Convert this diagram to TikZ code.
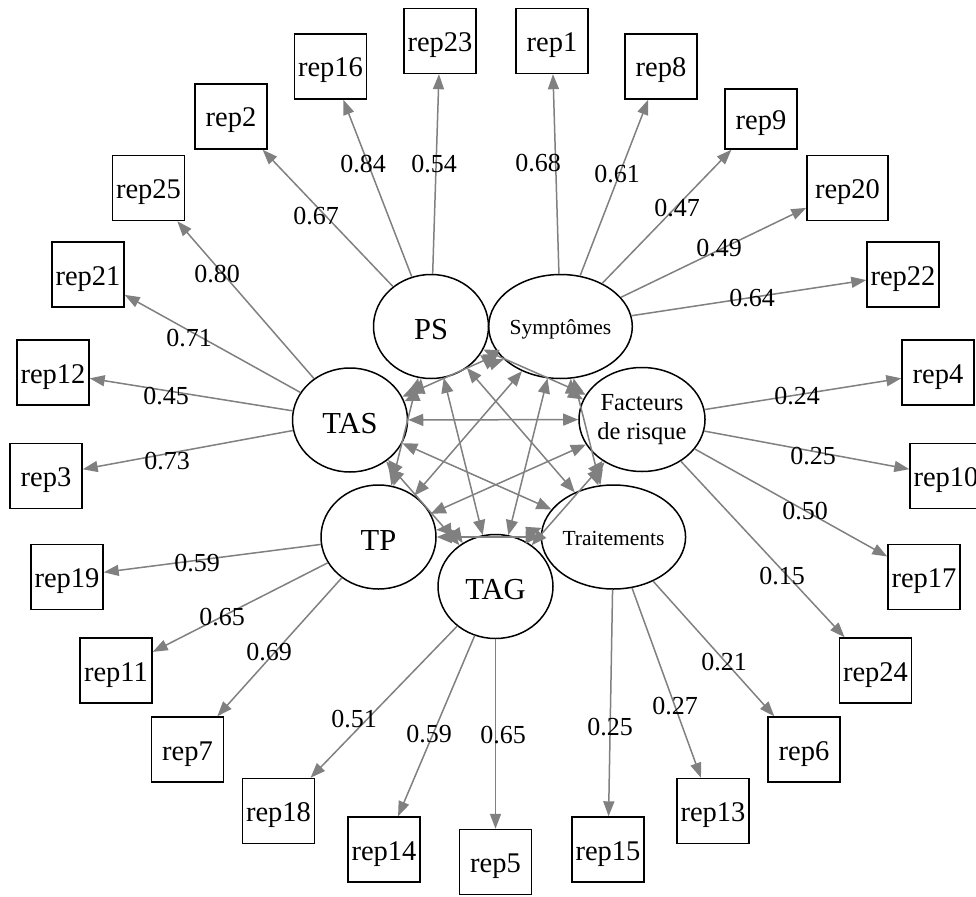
\documentclass[tikz,border=0pt]{standalone}
\usepackage{fontspec}
\setmainfont{Liberation Serif}
\usetikzlibrary{shapes.geometric,arrows.meta}
\definecolor{edgegray}{RGB}{128,128,128}
\tikzset{
  lat/.style={ellipse, draw=black, line width=1.5pt, minimum width=115pt, minimum height=104pt, inner sep=0pt, align=center},
  latbig/.style={lat, font=\fontsize{30.5}{33}\selectfont, text height=26pt, text depth=0pt},
  latsmall/.style={lat, font=\fontsize{21.5}{24}\selectfont, text height=16pt, text depth=0pt},
  latmid/.style={lat, font=\fontsize{24.5}{29}\selectfont},
  man/.style={rectangle, draw=black, line width=1.4pt, minimum width=72pt, minimum height=65pt, inner sep=0pt, font=\fontsize{28.5}{30}\selectfont, text height=21pt, text depth=0pt},
  load/.style={draw=edgegray, line width=1.5pt, -{Triangle[length=15pt,width=11pt]}},
  cov/.style={draw=edgegray, line width=1.5pt, {Triangle[length=15pt,width=12pt]}-{Triangle[length=15pt,width=12pt]}},
  adj/.style={cov, bend right=30},
  lbl/.style={font=\fontsize{26}{28}\selectfont, inner sep=0pt},
}
\begin{document}
\begin{tikzpicture}[x=1pt,y=-1pt]
\useasboundingbox (0,0) rectangle (976,896);
% latent variables
\node[latbig]   (PS)    at (431,326.5) {PS};
\node[latsmall] (SYM)   at (560.5,326.5) {Symptômes};
\node[latmid]   (FAC)   at (642,419.5) {Facteurs\\de risque};
\node[latsmall] (TRT)   at (613.5,537) {Traitements};
\node[latbig]   (TAG)   at (495.5,586.5) {TAG};
\node[latbig]   (TP)    at (378.5,537) {TP};
\node[latbig]   (TAS)   at (350,420) {TAS};
% manifest variables
\node[man] (r23) at (440,41) {rep23};
\node[man] (r16) at (330.5,66.5) {rep16};
\node[man] (r2)  at (231,116.5) {rep2};
\node[man] (r25) at (148.5,188) {rep25};
\node[man] (r21) at (88,274.5) {rep21};
\node[man] (r12) at (53,372.5) {rep12};
\node[man] (r3)  at (46,476) {rep3};
\node[man] (r19) at (67,577) {rep19};
\node[man] (r11) at (116,670.5) {rep11};
\node[man] (r7)  at (187.5,749.5) {rep7};
\node[man] (r18) at (278.5,811) {rep18};
\node[man] (r14) at (384,849.5) {rep14};
\node[man] (r5)  at (495.5,862) {rep5};
\node[man] (r15) at (608,849.5) {rep15};
\node[man] (r13) at (713,811) {rep13};
\node[man] (r6)  at (804,749.5) {rep6};
\node[man] (r24) at (875.5,670.5) {rep24};
\node[man] (r17) at (924,577) {rep17};
\node[man] (r10) at (946,476) {rep10};
\node[man] (r4)  at (938,372.5) {rep4};
\node[man] (r22) at (903,274.5) {rep22};
\node[man, minimum width=81pt] (r20) at (847.5,188) {rep20};
\node[man, minimum height=60pt] (r9) at (761,119) {rep9};
\node[man] (r8)  at (661,66.5) {rep8};
\node[man] (r1)  at (552,41) {rep1};
% loadings
\draw[load] (PS) -- (r23);
\draw[load] (PS) -- (r16);
\draw[load] (PS) -- (r2);
\draw[load] (TAS) -- (r25);
\draw[load] (TAS) -- (r21);
\draw[load] (TAS) -- (r12);
\draw[load] (TAS) -- (r3);
\draw[load] (TP) -- (r19);
\draw[load] (TP) -- (r11);
\draw[load] (TP) -- (r7);
\draw[load] (TAG) -- (r18);
\draw[load] (TAG) -- (r14);
\draw[load] (TAG) -- (r5);
\draw[load] (TRT) -- (r15);
\draw[load] (TRT) -- (r13);
\draw[load] (TRT) -- (r6);
\draw[load] (FAC) -- (r24);
\draw[load] (FAC) -- (r17);
\draw[load] (FAC) -- (r10);
\draw[load] (FAC) -- (r4);
\draw[load] (SYM) -- (r22);
\draw[load] (SYM) -- (r20);
\draw[load] (SYM) -- (r9);
\draw[load] (SYM) -- (r8);
\draw[load] (SYM) -- (r1);
% loading labels
\node[lbl] (l23) at (434,164) {0.54};
\node[lbl] (l16) at (363,164) {0.84};
\node[lbl] (l2)  at (316,216) {0.67};
\node[lbl] (l25) at (217,274) {0.80};
\node[lbl] (l21) at (189,338) {0.71};
\node[lbl] (l12) at (166,396) {0.45};
\node[lbl] (l3)  at (167,461) {0.73};
\node[lbl] (l19) at (197,563) {0.59};
\node[lbl] (l11) at (222,617) {0.65};
\node[lbl] (l7)  at (269,652) {0.69};
\node[lbl] (l18) at (354,719) {0.51};
\node[lbl] (l14) at (429,734) {0.59};
\node[lbl] (l5)  at (503,735) {0.65};
\node[lbl] (l15) at (610,727) {0.25};
\node[lbl] (l13) at (675,706) {0.27};
\node[lbl] (l6)  at (724,662) {0.21};
\node[lbl] (l24) at (782,576) {0.15};
\node[lbl] (l17) at (805,511) {0.50};
\node[lbl] (l10) at (813,456) {0.25};
\node[lbl] (l4)  at (797,396) {0.24};
\node[lbl] (l22) at (752,298) {0.64};
\node[lbl] (l20) at (719,248) {0.49};
\node[lbl] (l9)  at (677,208) {0.47};
\node[lbl] (l8)  at (617,174) {0.61};
\node[lbl] (l1)  at (538,163) {0.68};
% covariances between neighbours
\draw[adj] (PS) to (SYM);
\draw[adj] (SYM) to (FAC);
\draw[adj] (FAC) to (TRT);
\draw[adj] (TRT) to (TAG);
\draw[adj] (TAG) to (TP);
\draw[adj] (TP) to (TAS);
\draw[adj] (TAS) to (PS);
% other covariances
\draw[cov] (PS) -- (FAC);
\draw[cov] (PS) -- (TRT);
\draw[cov] (PS) -- (TAG);
\draw[cov] (PS) -- (TP);
\draw[cov] (SYM) -- (TRT);
\draw[cov] (SYM) -- (TAG);
\draw[cov] (SYM) -- (TP);
\draw[cov] (SYM) -- (TAS);
\draw[cov] (FAC) -- (TAG);
\draw[cov] (FAC) -- (TP);
\draw[cov] (FAC) -- (TAS);
\draw[cov] (TRT) -- (TP);
\draw[cov] (TRT) -- (TAS);
\draw[cov] (TAG) -- (TAS);
\end{tikzpicture}
\end{document}
